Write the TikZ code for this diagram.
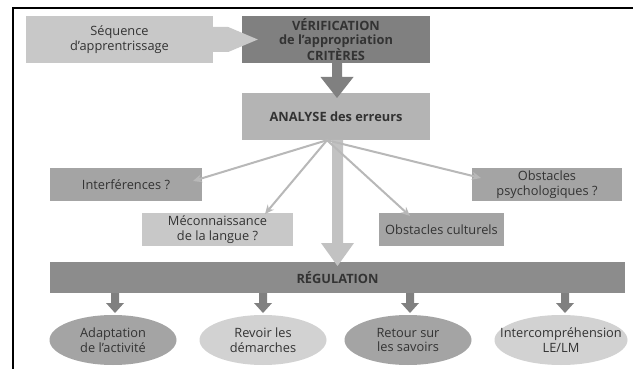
\documentclass[tikz,border=0pt]{standalone}
\usepackage{fontspec}
\setmainfont{Open Sans}
\usetikzlibrary{calc,shapes.geometric,arrows.meta}
\definecolor{txt}{HTML}{333333}
\definecolor{gLight}{HTML}{C8C8C8}
\definecolor{gMid}{HTML}{A4A4A4}
\definecolor{gDark}{HTML}{808080}
\definecolor{gAna}{HTML}{B4B4B4}
\definecolor{gReg}{HTML}{8C8C8C}
\definecolor{gThin}{HTML}{B8B8B8}
\definecolor{gBig}{HTML}{C2C2C2}
\definecolor{gEllL}{HTML}{D2D2D2}
\newcommand{\bdarrow}[7]{% color, x, ytop, yhead, ytip, shaft half, head half
  \fill[#1] (#2-#6,#3) -- (#2+#6,#3) -- (#2+#6,#4) -- (#2+#7,#4) -- (#2,#5) -- (#2-#7,#4) -- (#2-#6,#4) -- cycle;}
\newcommand{\fsz}{\fontsize{12.8}{14.5}\selectfont}
\begin{document}
\begin{tikzpicture}[x=1pt,y=-1pt,
  box/.style={rectangle,inner sep=0pt,align=center,text=txt,font=\fsz},
  bigbox/.style={box,minimum width=188pt,minimum height=47pt},
  smallbox/.style={box,minimum height=33pt},
  ell/.style={ellipse,inner sep=0pt,minimum width=127pt,minimum height=50pt},
  elltext/.style={align=center,text=txt,font=\fsz,inner sep=0pt},
  thin/.style={draw=gThin,line width=2pt,-{Stealth[length=9pt,width=8pt]}}]
\useasboundingbox (0,0) rectangle (633,369);
\fill[white] (0,0) rectangle (633,369);
\draw[line width=2pt,line cap=rect] (13,369) -- (13,8) -- (633,8);
% boxes
\node[bigbox,fill=gLight,minimum width=187pt] (seq) at (119.5,39.5) {Séquence\\d’apprentrissage};
\node[bigbox,fill=gDark,font=\fsz\bfseries] (verif) at (336,39.5) {VÉRIFICATION\\de l’appropriation\\CRITÈRES};
\node[bigbox,fill=gAna,font=\fsz\bfseries] (ana) at (336,116.5) {ANALYSE des erreurs};
\node[smallbox,fill=gMid,minimum width=152pt] (interf) at (126,184.5) {Interférences ?};
\node[smallbox,fill=gLight,minimum width=151pt] (mecon) at (217.5,229.5) {Méconnaissance\\de la langue ?};
\node[smallbox,fill=gMid,minimum width=125pt] (cult) at (441.5,229.5) {Obstacles culturels};
\node[smallbox,fill=gMid,minimum width=150pt] (psy) at (547,184.5) {Obstacles\\psychologiques ?};
\node[box,fill=gReg,minimum width=575pt,minimum height=31pt,font=\fsz\bfseries] (reg) at (337.5,277.5) {RÉGULATION};
% ellipses
\node[ell,fill=gMid,label={[elltext]center:{Adaptation\\de l’activité}}] (e1) at (113,340) {};
\node[ell,fill=gEllL,label={[elltext]center:{Revoir les\\démarches}}] (e2) at (263,340) {};
\node[ell,fill=gMid,label={[elltext]center:{Retour sur\\les savoirs}}] (e3) at (408,340) {};
\node[ell,fill=gEllL,minimum width=133pt,label={[elltext]center:{Intercompréhension\\LE/LM}}] (e4) at (561,340) {};
% chevron arrow seq -> verif
\fill[gLight] ($(seq.east)+(0,-12.5)$) -- ++(15,0) -- ($(verif.west)+(16,0)$) -- ($(seq.east)+(15,12.5)$) -- ($(seq.east)+(0,12.5)$) -- cycle;
% verif -> ana
\bdarrow{gDark}{337}{63}{77}{98}{5}{16.5}
% ana -> reg big arrow
\bdarrow{gBig}{337.5}{140}{243}{266}{5.5}{16.5}
% thin arrows
\coordinate (o) at ($(ana.south)+(-9,0)$);
\draw[thin] (o) -- (193,181);
\draw[thin] (o) -- (265,214);
\draw[thin] (o) -- (410,216);
\draw[thin] (o) -- (481,178);
% small arrows reg -> ellipses
\foreach \xx in {115,263,410,565}{\bdarrow{gDark}{\xx}{293}{303}{313}{4}{9}}
\end{tikzpicture}
\end{document}
